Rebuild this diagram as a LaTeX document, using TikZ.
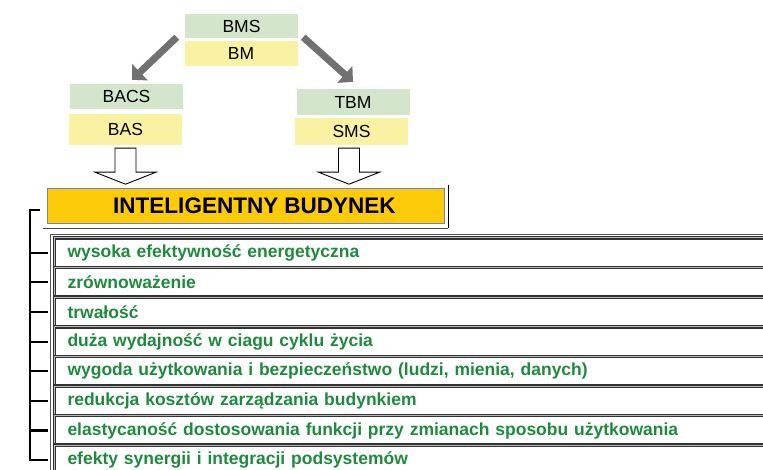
\documentclass[tikz,border=0pt]{standalone}
\usepackage{fontspec}
\setmainfont{Liberation Sans}
\usetikzlibrary{arrows.meta,calc}
\definecolor{boxgreen}{HTML}{D3E6CB}
\definecolor{boxyellow}{HTML}{F8F2A2}
\definecolor{budgold}{HTML}{FECB0A}
\definecolor{budblue}{HTML}{6A85BF}
\definecolor{rowgreen}{HTML}{1E8B3C}
\definecolor{arrowgray}{HTML}{717171}
\begin{document}
\begin{tikzpicture}[
    x=1pt, y=-1pt,
    gbox/.style={rectangle, fill=boxgreen, minimum width=113pt, inner sep=0pt, font=\fontsize{17.5}{20}\selectfont},
    ybox/.style={rectangle, fill=boxyellow, minimum width=113pt, inner sep=0pt, font=\fontsize{17.5}{20}\selectfont},
    main/.style={rectangle, draw=budblue, line width=0.8pt, fill=budgold, minimum width=397pt, minimum height=35pt, font=\bfseries\fontsize{22.5}{26}\selectfont},
    feature/.style={rectangle, anchor=north west, outer sep=0pt, draw=black!80, line width=1.3pt, double=gray!55, double distance=1pt, minimum height=29.6pt, text width=734pt, inner xsep=13pt, align=left, text=rowgreen, font=\bfseries\fontsize{17.5}{20}\selectfont},
    thick arrow/.style={draw=arrowgray, line width=7pt, -{Triangle[width=22pt,length=11pt]}},
    hollow/.style={draw=black, fill=white, line width=0.9pt},
    brace/.style={draw=black, line width=2.2pt},
    >=latex
]
\useasboundingbox (0,0) rectangle (763,470);
% BMS / BM na gorze
\node[gbox, minimum height=24pt] at (241.5,26) (bms) {BMS};
\node[ybox, minimum height=25pt] at (241,53.5) (bm) {BM};
% lewa galaz
\node[gbox, minimum height=25pt] at (126.5,96.5) (bacs) {BACS};
\node[ybox, minimum height=31pt] at (125.5,129.5) (bas) {BAS};
% prawa galaz
\node[gbox, minimum height=26pt] at (353,102) (tbm) {TBM};
\node[ybox, minimum height=27pt] at (351.5,131.5) (sms) {SMS};
% szare strzalki
\draw[thick arrow] ($(bms.south west)+(-8,-1)$) -- ($(bacs.north)+(5.5,-4)$);
\draw[thick arrow] ($(bms.south east)+(5,-1)$) -- ($(tbm.north)+(0,-7)$);
% glowny blok
\node[main] at (245.5,205.5) (budynek) {\hspace*{18pt}INTELIGENTNY BUDYNEK};
\draw[black, line width=1.5pt] ($(budynek.north east)+(4,-3)$) -- ($(budynek.south east)+(4,5)$);
\draw[black!70, line width=0.8pt] ($(budynek.south west)+(-4,5)$) -- ($(budynek.south east)+(4,5)$);
% puste strzalki w dol
\draw[hollow] ($(bas.south)+(-10.5,3)$) -- ++(0,24) -- ++(-20,0) -- ++(30.5,12) -- ++(30.5,-12) -- ++(-20,0) -- ++(0,-24) -- cycle;
\draw[hollow] ($(sms.south)+(-13,3)$) -- ++(0,24) -- ++(-20,0) -- ++(30.5,12) -- ++(30.5,-12) -- ++(-20,0) -- ++(0,-24) -- cycle;
% lista cech
\draw[black!65, line width=1pt] (50.5,485) -- (50.5,234.5) -- (800,234.5);
\node[feature] at (54.5,238) (r1) {wysoka efektywność energetyczna};
\node[feature] at (54.5,267.6) (r2) {zrównoważenie};
\node[feature] at (54.5,297.2) (r3) {trwałość};
\node[feature] at (54.5,326.8) (r4) {duża wydajność w ciagu cyklu życia};
\node[feature] at (54.5,356.4) (r5) {wygoda użytkowania i bezpieczeństwo (ludzi, mienia, danych)};
\node[feature] at (54.5,386) (r6) {redukcja kosztów zarządzania budynkiem};
\node[feature] at (54.5,415.6) (r7) {elastycaność dostosowania funkcji przy zmianach sposobu użytkowania};
\node[feature] at (54.5,445.2) (r8) {efekty synergii i integracji podsystemów};
% klamra z lewej
\coordinate (top) at (40,210);
\coordinate (spine) at (30,210);
\draw[brace] (top) -- (spine) -- (spine |- r8.west) -- ($(r8.west)+(-6.5,0)$);
\draw[brace] ($(r1.west)+(-6.5,0)$) -- (spine |- r1.west);
\draw[brace] ($(r2.west)+(-6.5,0)$) -- (spine |- r2.west);
\draw[brace] ($(r3.west)+(-6.5,0)$) -- (spine |- r3.west);
\draw[brace] ($(r4.west)+(-6.5,0)$) -- (spine |- r4.west);
\draw[brace] ($(r5.west)+(-6.5,0)$) -- (spine |- r5.west);
\draw[brace] ($(r6.west)+(-6.5,0)$) -- (spine |- r6.west);
\draw[brace] ($(r7.west)+(-6.5,0)$) -- (spine |- r7.west);
\end{tikzpicture}
\end{document}
